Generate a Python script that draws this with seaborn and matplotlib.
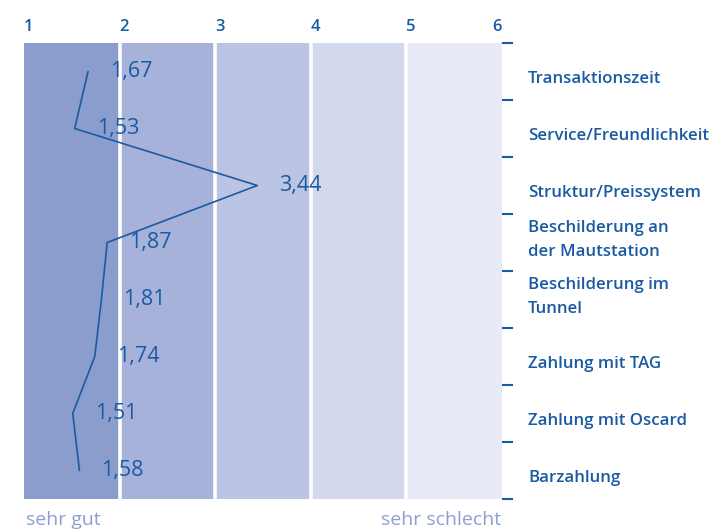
import matplotlib
matplotlib.use("Agg")
import matplotlib.pyplot as plt
import seaborn as sns
import pandas as pd

# ---- data ----
categories = [
    "Transaktionszeit",
    "Service/Freundlichkeit",
    "Struktur/Preissystem",
    "Beschilderung an\nder Mautstation",
    "Beschilderung im\nTunnel",
    "Zahlung mit TAG",
    "Zahlung mit Oscard",
    "Barzahlung",
]
values = [1.67, 1.53, 3.44, 1.87, 1.81, 1.74, 1.51, 1.58]
scale_ticks = [1, 2, 3, 4, 5, 6]
scale_low_label = "sehr gut"
scale_high_label = "sehr schlecht"

# ---- style ----
sns.set_theme(style="white")
plt.rcParams["font.family"] = ["Open Sans", "DejaVu Sans"]

BLUE = "#1a5aa3"
LIGHT = "#8d9fd2"
band_colors = ["#8b9dcd", "#a6b2da", "#bbc4e3", "#d3d8ec", "#e8eaf5"]

df = pd.DataFrame({"cat": categories, "pos": range(len(categories)), "val": values})

fig = plt.figure(figsize=(7.12, 5.31), dpi=100)
ax = fig.add_axes([24 / 712, 32 / 531, 478 / 712, 456 / 531])

# background bands
for i in range(len(scale_ticks) - 1):
    ax.axvspan(scale_ticks[i], scale_ticks[i + 1], color=band_colors[i], lw=0, zorder=0)
for t in scale_ticks[1:-1]:
    ax.axvline(t, color="white", lw=2.6, zorder=1)

sns.lineplot(data=df, x="val", y="pos", sort=False, orient="y",
             color=BLUE, lw=1.2, ax=ax, zorder=3)

for p, v in zip(df["pos"], df["val"]):
    ax.annotate(f"{v:.2f}".replace(".", ","), (v, p), xytext=(22, 0),
                textcoords="offset pixels", ha="left", va="center",
                fontsize=15.5, color=BLUE, zorder=4)

ax.set_xlim(scale_ticks[0], scale_ticks[-1])
ax.set_ylim(len(categories) - 0.5, -0.5)

# top scale labels
ax.xaxis.tick_top()
ax.set_xticks(scale_ticks)
ax.set_xticklabels([str(t) for t in scale_ticks], fontsize=12, color=BLUE,
                   fontweight="semibold")
for i, lab in enumerate(ax.get_xticklabels()):
    lab.set_ha("right" if i == len(scale_ticks) - 1 else "left")
ax.tick_params(axis="x", length=0, pad=6)

# right side: category labels and boundary dashes
ax.yaxis.tick_right()
ax.set_yticks([k - 0.5 for k in range(len(categories) + 1)])
ax.set_yticklabels([])
ax.tick_params(axis="y", which="major", length=8, width=1.5, color=BLUE,
               direction="out", right=True, left=False)
tr = ax.get_yaxis_transform()
for p, c in zip(df["pos"], categories):
    dy = -0.04 if "\n" in c else 0.13
    ax.text(1 + 26 / 478, p + dy, c, transform=tr, ha="left", va="center",
            fontsize=12.2, color=BLUE, fontweight="semibold", linespacing=1.7,
            clip_on=False)

ax.set_xlabel("")
ax.set_ylabel("")
for s in ax.spines.values():
    s.set_visible(False)

fig.text(26 / 712, 1 - 520 / 531, scale_low_label, ha="left", va="center",
         fontsize=14, color=LIGHT)
fig.text(501 / 712, 1 - 520 / 531, scale_high_label, ha="right", va="center",
         fontsize=14, color=LIGHT)

fig.savefig("out.png", dpi=100)
